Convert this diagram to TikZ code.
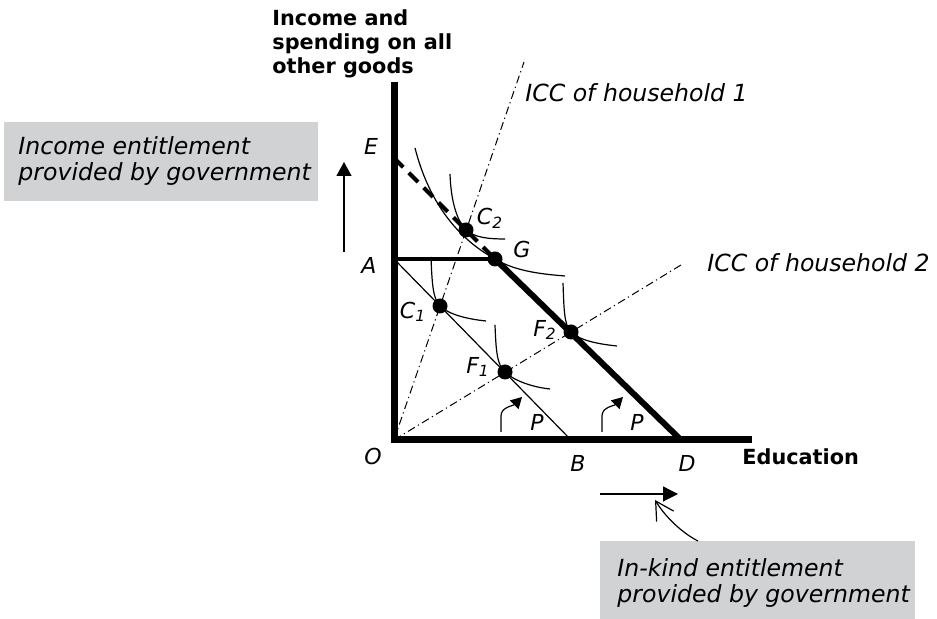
\documentclass[tikz,border=0pt]{standalone}
\usepackage{fontspec}
\setmainfont{DejaVu Sans}
\usetikzlibrary{arrows.meta}

\definecolor{notegray}{RGB}{209,210,212}

\tikzset{
	axis/.style = {line width=3.5pt},
	icc/.style = {line width=0.5pt, dash pattern=on 4pt off 1.8pt on 0.6pt off 1.8pt},
	indiff/.style = {line width=0.6pt},
	lab/.style = {font=\fontsize{11}{13}\selectfont\itshape, inner sep=0pt},
	ccname/.style = {font=\fontsize{11.8}{13}\selectfont\itshape, inner sep=0pt, anchor=base west},
	note/.style = {font=\fontsize{11.8}{13}\selectfont\itshape, align=left, inner sep=0pt, anchor=north west},
	axname/.style = {font=\fontsize{10.4}{12}\selectfont\bfseries, align=left, inner sep=0pt},
}

\begin{document}
\begin{tikzpicture}[x=0.5pt, y=0.5pt]
		\useasboundingbox (0, 0) rectangle (937, 619);

		\coordinate (O) at (394, 179);
		\coordinate (ytop) at (394, 537);
		\coordinate (xend) at (752, 179);
		\coordinate (A) at (394, 360);
		\coordinate (E) at (394, 461);
		\coordinate (G) at (495, 360);
		\coordinate (B) at (571, 179);
		\coordinate (D) at (681, 179);
		\coordinate (C1) at (440, 313);
		\coordinate (C2) at (466, 389);
		\coordinate (F1) at (505, 247);
		\coordinate (F2) at (571, 287);
		\coordinate (icc1) at (524, 557);
		\coordinate (icc2) at (681, 354);

		\fill[notegray] (4, 418) rectangle (318, 497);
		\fill[notegray] (600, 0) rectangle (915, 78);

		\draw[icc] (O) -- (icc1);
		\draw[icc] (O) -- (icc2);

		\draw[indiff] (431, 362) .. controls (432, 335) and (433, 320) .. (C1) .. controls (448, 305) and (466, 300) .. (486, 298);
		\draw[indiff] (450, 445) .. controls (451, 415) and (458, 397) .. (C2) .. controls (475, 381) and (490, 380) .. (505, 380);
		\draw[indiff] (415, 471) .. controls (428, 420) and (455, 382) .. (G) .. controls (515, 348) and (540, 345) .. (565, 343);
		\draw[indiff] (495, 294) .. controls (496, 268) and (497, 254) .. (F1) .. controls (513, 239) and (531, 232) .. (550, 230);
		\draw[indiff] (563, 336) .. controls (564, 310) and (564, 294) .. (F2) .. controls (579, 279) and (597, 275) .. (617, 273);

		\draw[indiff] (A) -- (B);
		\draw[line width=2pt, dash pattern=on 6.5pt off 4pt] (E) -- (G);
		\draw[line width=2.2pt] (A) -- (G);
		\draw[line width=3pt] (G) -- (D);
		\draw[axis] (ytop) -- (O) -- (xend);

		\foreach \p in {C1, C2, G, F1, F2}
			\fill (\p) circle (7.5);

		\foreach \x in {501, 602}
			\draw[indiff, -{Triangle[length=5.5pt, width=6pt]}] (\x, 187) -- ++(0, 16) .. controls +(0, 9) and +(-9, -9) .. ++(21, 19);

		\node[lab] (lE) at (371, 473) {E};
		\node[lab] (lA) at (369, 354) {A};
		\node[lab] (lO) at (373, 162) {O};
		\node[lab] (lB) at (578, 156) {B};
		\node[lab] (lD) at (687, 156) {D};
		\node[lab] (lG) at (522, 369) {G};
		\node[lab] (lC2) at (490, 401) {C\textsubscript{2}};
		\node[lab] (lC1) at (413, 307) {C\textsubscript{1}};
		\node[lab] (lF1) at (478, 252) {F\textsubscript{1}};
		\node[lab] (lF2) at (545, 289) {F\textsubscript{2}};
		\node[lab] (lP1) at (537, 197) {P};
		\node[lab] (lP2) at (637, 197) {P};

		\node[axname, anchor=north west] (yname) at (272, 610) {Income and\\spending on all\\other goods};
		\node[axname, anchor=west] (xname) at (742, 162) {Education};

		\node[ccname] (lcc1) at (525, 517) {ICC of household 1};
		\node[ccname] (lcc2) at (707, 347) {ICC of household 2};

		\node[note] (inc) at (18, 483) {Income entitlement\\provided by government};
		\node[note] (kind) at (617, 61) {In-kind entitlement\\provided by government};

		\coordinate (up0) at (344, 367);
		\coordinate (up1) at (344, 457);
		\draw[indiff, -{Triangle[length=7pt, width=7.5pt]}] (up0) -- (up1);

		\coordinate (rt0) at (600, 125);
		\coordinate (rt1) at (678, 125);
		\draw[indiff, -{Triangle[length=7.5pt, width=7.5pt]}] (rt0) -- (rt1);

		\coordinate (kt0) at (698, 78);
		\coordinate (kt1) at (655, 119);
		\draw[indiff, -{Straight Barb[length=9pt, width=10pt]}] (kt0) .. controls (686, 84) and (668, 98) .. (kt1);
	\end{tikzpicture}
\end{document}
